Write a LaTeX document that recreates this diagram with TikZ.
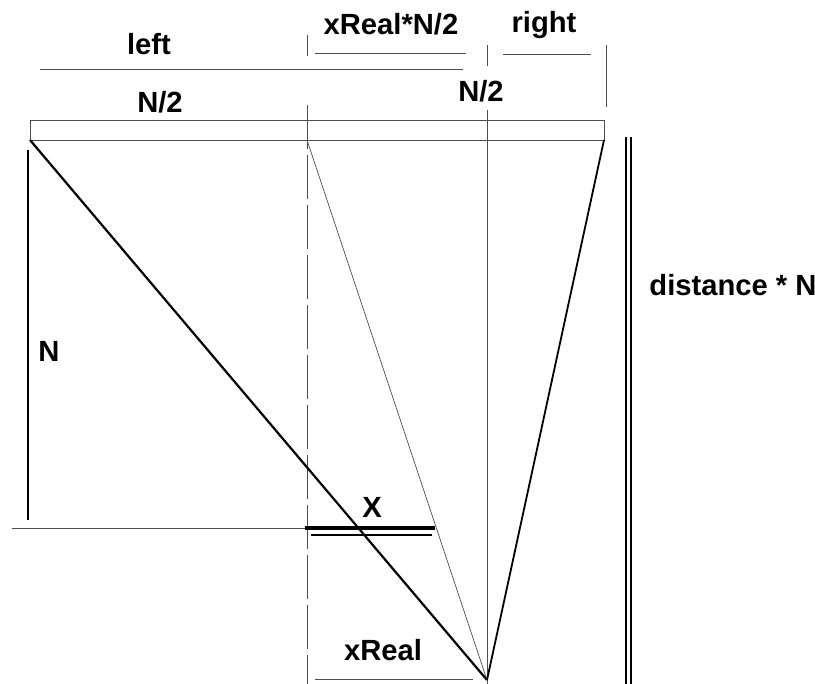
\documentclass[tikz,border=0pt]{standalone}
\usepackage{fontspec}
\setmainfont{Liberation Sans}
\usetikzlibrary{positioning,calc}

\tikzset{
  thinline/.style={draw=black!70,line width=0.45pt},
  boldline/.style={draw=black,line width=1.4pt},
  midline/.style={draw=black,line width=0.9pt},
  lbl/.style={font=\fontsize{14.6}{17}\selectfont\bfseries,inner sep=0pt,anchor=base},
}

\begin{document}
\begin{tikzpicture}[x=0.5pt,y=-0.5pt]
  \useasboundingbox (0,0) rectangle (815,684);

  % 基準点（枠の下辺と頂点）
  \coordinate (tl) at (30,140);
  \coordinate (tm) at (307,140);
  \coordinate (tr) at (604,140);
  \coordinate (apex) at (487,680);

  % 上の枠
  \draw[thinline] (30,120) rectangle (tr);

  % 縦の補助線
  \draw[thinline] (307,35) -- (307,56);
  \draw[thinline,dash pattern=on 22pt off 3pt] (307,105) -- (307,684);
  \draw[thinline] (487,45) -- (487,66);
  \draw[thinline] (487,110) -- (487,684);
  \draw[thinline] (606,45) -- (606,107);

  % 寸法線（上）
  \draw[thinline] (40,69) -- (463,69);
  \draw[thinline] (315,53) -- (466,53);
  \draw[thinline] (503,54) -- (591,54);

  % 三本の斜線
  \draw[boldline,line width=1.1pt] (tl) -- (apex);
  \draw[thinline,line width=0.35pt] (tm) -- (apex);
  \draw[midline] (tr) -- (apex);

  % N の縦線
  \draw[boldline] (28,150) -- (28,520);

  % X の位置
  \draw[thinline] (12,528) -- (305,528);
  \draw[boldline,line width=1.6pt] (305,528) -- (435,528);
  \draw[boldline,line width=1.3pt] (311,535) -- (432,535);

  % xReal の下線
  \draw[thinline] (315,679) -- (473,679);

  % distance * N の二重線
  \draw[boldline,line width=1.3pt] (626,137) -- (626,684);
  \draw[boldline,line width=1.3pt] (631,137) -- (631,684);

  % ラベル
  \node[lbl] (left) at (149,55) {left};
  \node[lbl] (xrn) at (391,35) {xReal*N/2};
  \node[lbl] (right) at (544,33) {right};
  \node[lbl] (nhalfl) at (160,113) {N/2};
  \node[lbl] (nhalfr) at (481,102) {N/2};
  \node[lbl] (n) at (49,362) {N};
  \node[lbl] (x) at (372,517) {X};
  \node[lbl] (xreal) at (383,661) {xReal};
  \node[lbl] (dist) at (733,296) {distance * N};
\end{tikzpicture}
\end{document}
